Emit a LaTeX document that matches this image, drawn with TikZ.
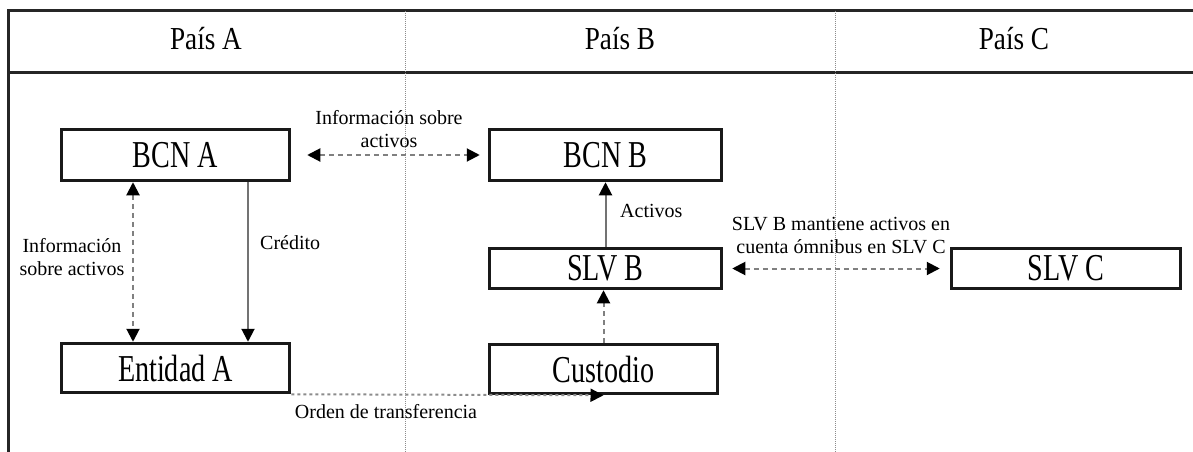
\documentclass[tikz,border=0pt]{standalone}
\usepackage{fontspec}
\setmainfont{Liberation Serif}
\newfontfamily\boxfont[FakeStretch=0.74]{Liberation Serif}
\newfontfamily\headfont[FakeStretch=0.85]{Liberation Serif}
\usetikzlibrary{arrows.meta}
\begin{document}
\begin{tikzpicture}[x=1pt,y=-1pt,
  frame/.style={line width=3pt, black!85},
  sep/.style={densely dotted, line width=1pt, black!45},
  box/.style={draw, line width=3.5pt, black!90, text=black, inner sep=0pt, minimum width=228pt, font=\boxfont\fontsize{38}{40}\selectfont},
  lbl/.style={font=\fontsize{20}{23}\selectfont, inner sep=0pt, align=center},
  head/.style={font=\headfont\fontsize{32}{36}\selectfont, inner sep=0pt, anchor=base},
  tip/.style={-{Triangle[length=13pt,width=13pt,color=black]}},
  dtip/.style={{Triangle[length=13pt,width=13pt,color=black]}-{Triangle[length=13pt,width=13pt,color=black]}},
  dsh/.style={line width=2pt, black!50, dash pattern=on 5pt off 4pt},
  dots/.style={line width=2pt, black!45, dash pattern=on 3pt off 3pt},
  sol/.style={line width=2pt, black!55},
]
\useasboundingbox (0,0) rectangle (1193,452);
% frame
\draw[frame] (8,452) -- (8,11) -- (1193,11);
\draw[frame] (8,72) -- (1193,72);
\draw[sep] (405,11) -- (405,452);
\draw[sep] (835,11) -- (835,452);
% headers
\node[head] (hA) at (206,50) {País A};
\node[head] (hB) at (620,50) {País B};
\node[head] (hC) at (1014,50) {País C};
% boxes
\node[box, minimum height=51pt] (BCNA) at (175.5,155) {BCN A};
\node[box, minimum height=51pt, minimum width=232pt] (BCNB) at (605.5,155) {BCN B};
\node[box, minimum height=40pt, minimum width=232pt] (SLVB) at (605.5,268.5) {SLV B};
\node[box, minimum height=40pt, minimum width=229pt] (SLVC) at (1066,268.5) {SLV C};
\node[box, minimum height=49pt] (EntA) at (175.5,368) {Entidad A};
\node[box, minimum height=49pt] (Cust) at (603.5,369) {Custodio};
% connectors
\coordinate (vx) at (133,0);
\coordinate (cx) at (248,0);
\draw[dsh,dtip] (BCNA.south -| vx) -- (EntA.north -| vx);
\draw[sol,tip] (BCNA.south -| cx) -- (EntA.north -| cx);
\draw[dsh,dtip] ([xshift=16pt]BCNA.east) -- ([xshift=-8pt]BCNB.west);
\draw[sol,tip] (SLVB.north) -- (BCNB.south);
\draw[dsh,tip] (Cust.north) -- (Cust.north |- SLVB.south);
\draw[dsh,dtip] ([xshift=9pt]SLVB.east) -- ([xshift=-10pt]SLVC.west);
\draw[dots,tip] (EntA.south east) -- (Cust.south);
% labels
\node[lbl] (l1) at (389,129) {Información sobre\\activos};
\node[lbl] (l2) at (72,257) {Información\\sobre activos};
\node[lbl, anchor=base west] (l3) at (260,249) {Crédito};
\node[lbl, anchor=base west] (l4) at (620,217) {Activos};
\node[lbl] (l5) at (841,236) {SLV B mantiene activos en\\cuenta ómnibus en SLV C};
\node[lbl, anchor=base] (l6) at (386,418) {Orden de transferencia};
\end{tikzpicture}
\end{document}
